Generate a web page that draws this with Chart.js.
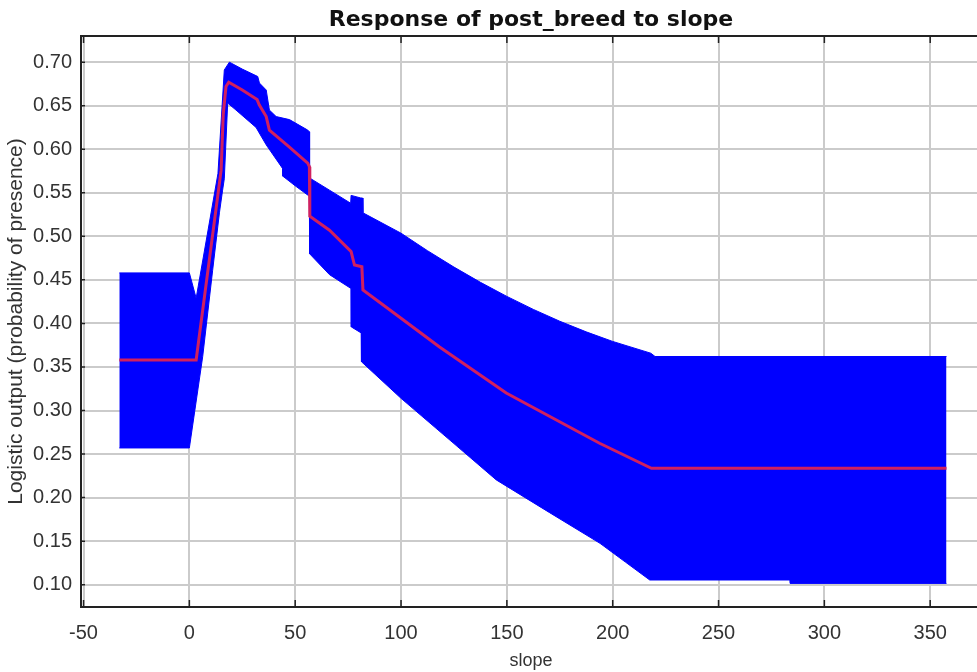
<!DOCTYPE html>
<html>
<head>
<meta charset="utf-8">
<script src="https://cdn.jsdelivr.net/npm/chart.js@4.4.1/dist/chart.umd.min.js"></script>
<style>
  html, body { margin: 0; padding: 0; background: #fff; overflow: hidden; }
  #wrap { width: 981px; height: 672px; }
</style>
</head>
<body>
<div id="wrap"><canvas id="grafico" width="981" height="672"></canvas></div>
<script>
// ── Dados ───────────────────────────────────────────────
const upperX = [-33.1, 0, 3.2, 13.5, 16.5, 18.9, 25, 32.3, 33.1, 36.3, 37.8, 41, 47.3, 55.9, 56.7, 56.8, 66.2, 76.2, 76.4, 81, 81.8, 82, 100, 112.5, 125, 137.5, 150, 162.5, 175, 187.5, 200, 218, 220, 357.7];
const upperY = [0.458, 0.458, 0.429, 0.572, 0.691, 0.700, 0.692, 0.6835, 0.676, 0.668, 0.645, 0.6375, 0.634, 0.622, 0.620, 0.567, 0.553, 0.538, 0.547, 0.544, 0.544, 0.527, 0.5036, 0.4835, 0.4647, 0.4472, 0.431, 0.4161, 0.4025, 0.3903, 0.3793, 0.3658, 0.362, 0.362];

const lowerX = [-33.1, 0, 6.3, 11, 14.2, 15.7, 16.5, 18.1, 22, 31.5, 36.3, 44, 44.2, 50, 56.7, 56.8, 66.2, 76.4, 76.5, 81.2, 81.3, 100, 125, 145, 170, 194, 206, 217.5, 283.7, 283.8, 357.7];
const lowerY = [0.257, 0.257, 0.362, 0.461, 0.527, 0.553, 0.566, 0.653, 0.645, 0.625, 0.605, 0.578, 0.569, 0.558, 0.546, 0.480, 0.456, 0.440, 0.396, 0.389, 0.356, 0.314, 0.262, 0.2203, 0.183, 0.1475, 0.126, 0.1054, 0.1054, 0.1015, 0.1015];

const meanX = [-33.1, 3.2, 15, 16, 17.3, 18.6, 25, 32, 33, 36.3, 37.8, 47, 55.9, 56.7, 56.9, 66.2, 75.6, 76.4, 78, 81.5, 82, 100, 118.2, 149.7, 193.8, 218.3, 357.7];
const meanY = [0.358, 0.358, 0.576, 0.640, 0.672, 0.677, 0.668, 0.657, 0.651, 0.6375, 0.622, 0.603, 0.584, 0.580, 0.523, 0.507, 0.4845, 0.4825, 0.467, 0.465, 0.4385, 0.406, 0.373, 0.320, 0.2624, 0.2337, 0.2337];

const xTicks = [-50, 0, 50, 100, 150, 200, 250, 300, 350];
const yTicks = [0.10, 0.15, 0.20, 0.25, 0.30, 0.35, 0.40, 0.45, 0.50, 0.55, 0.60, 0.65, 0.70];

const COR = {
  banda: '#0000FF',
  media: '#D0205F',
  grade: '#CBCBCB',
  eixo:  '#222222',
  texto: '#333333',
};

function pontos(xs, ys) {
  return xs.map((v, i) => ({ x: v, y: ys[i] }));
}

// moldura superior e marcas internas dos eixos
const moldura = {
  id: 'moldura',
  afterDraw(chart) {
    const { ctx, chartArea: a, scales: { x, y } } = chart;
    ctx.save();
    ctx.strokeStyle = COR.eixo;
    ctx.lineWidth = 2;
    ctx.beginPath();
    ctx.moveTo(a.left - 1, a.top);
    ctx.lineTo(a.right, a.top);
    ctx.stroke();
    ctx.lineWidth = 1.5;
    ctx.beginPath();
    xTicks.forEach(v => {
      const px = x.getPixelForValue(v);
      ctx.moveTo(px, a.bottom);
      ctx.lineTo(px, a.bottom - 7);
      ctx.moveTo(px, a.top);
      ctx.lineTo(px, a.top + 7);
    });
    yTicks.forEach(v => {
      const py = y.getPixelForValue(v);
      ctx.moveTo(a.left, py);
      ctx.lineTo(a.left + 4, py);
    });
    ctx.stroke();
    ctx.restore();
  }
};

const fonteEixo = { family: "'Liberation Sans', Arial, sans-serif", size: 20 };

new Chart(document.getElementById('grafico'), {
  type: 'line',
  data: {
    datasets: [
      {
        data: pontos(upperX, upperY),
        borderColor: COR.banda,
        backgroundColor: COR.banda,
        borderWidth: 1,
        fill: '+1',
        pointRadius: 0,
        order: 0,
      },
      {
        data: pontos(lowerX, lowerY),
        borderColor: COR.banda,
        backgroundColor: COR.banda,
        borderWidth: 1,
        fill: false,
        pointRadius: 0,
        order: 0,
      },
      {
        data: pontos(meanX, meanY),
        borderColor: COR.media,
        borderWidth: 3,
        fill: false,
        pointRadius: 0,
        order: -1,
      },
    ],
  },
  options: {
    responsive: false,
    animation: false,
    layout: { padding: 0 },
    plugins: {
      legend: { display: false },
      tooltip: { enabled: false },
      title: {
        display: true,
        text: 'Response of post_breed to slope',
        fullSize: false,
        color: '#111',
        font: { family: "'DejaVu Sans', sans-serif", size: 22, weight: 'bold' },
        padding: { top: 7, bottom: 2.6 },
      },
    },
    scales: {
      x: {
        type: 'linear',
        min: -51.2,
        max: 374.0,
        afterBuildTicks: s => { s.ticks = xTicks.map(v => ({ value: v })); },
        afterFit: s => { s.height = 65; },
        grid: { color: COR.grade, lineWidth: 2, drawTicks: false },
        border: { display: true, color: COR.eixo, width: 2 },
        ticks: {
          color: COR.texto,
          font: fonteEixo,
          padding: 14,
          maxRotation: 0,
          callback: v => String(v),
        },
        title: {
          display: true,
          text: 'slope',
          color: COR.texto,
          font: { family: "'Liberation Sans', Arial, sans-serif", size: 18 },
          padding: { top: 0, bottom: 0 },
        },
      },
      y: {
        type: 'linear',
        min: 0.0744,
        max: 0.730,
        afterBuildTicks: s => { s.ticks = yTicks.map(v => ({ value: v })); },
        afterFit: s => { s.width = 81; },
        grid: { color: COR.grade, lineWidth: 2, drawTicks: false },
        border: { display: true, color: COR.eixo, width: 2 },
        ticks: {
          color: COR.texto,
          font: fonteEixo,
          padding: 9,
          callback: v => v.toFixed(2),
        },
        title: {
          display: true,
          text: 'Logistic output (probability of presence)',
          color: COR.texto,
          font: { family: "'Liberation Sans', Arial, sans-serif", size: 21 },
          padding: { top: 4, bottom: 0 },
        },
      },
    },
  },
  plugins: [moldura],
});
</script>
</body>
</html>
